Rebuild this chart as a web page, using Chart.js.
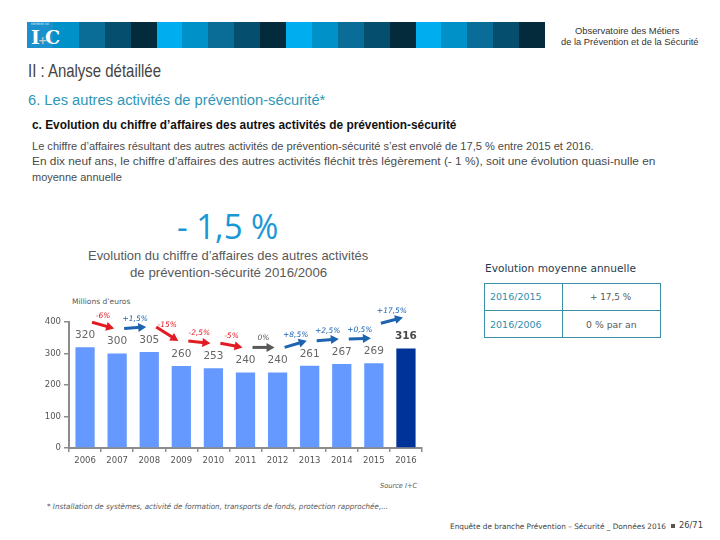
<!DOCTYPE html>
<html lang="fr">
<head>
<meta charset="utf-8">
<script src="https://cdn.jsdelivr.net/npm/chart.js@4.4.1/dist/chart.umd.min.js"></script>
<style>
  html, body { margin: 0; padding: 0; background: #fff; }
  #page { position: relative; width: 720px; height: 540px; overflow: hidden; font-family: "Liberation Sans Narrow", "Liberation Sans", sans-serif; }
  .t { position: absolute; white-space: nowrap; line-height: 1; transform-origin: 0 50%; }
  .seg { position: absolute; top: 22px; height: 26px; }
  #chartBox { position: absolute; left: 30px; top: 290px; width: 410px; height: 185px; }
  #tbl { position: absolute; left: 484px; top: 283px; width: 177px; height: 55px; border: 1.5px solid #3b8ea5; box-sizing: border-box; }
  #tbl .v { position: absolute; left: 77px; top: 0; bottom: 0; border-left: 1.5px solid #3b8ea5; }
  #tbl .h { position: absolute; left: 0; right: 0; top: 26px; border-top: 1.5px solid #3b8ea5; }
  .dv { font-family: "DejaVu Sans", sans-serif; }
  #sq { position: absolute; left: 671px; top: 524px; width: 4px; height: 4px; background: #555; }
</style>
</head>
<body>
<div id="page">
  <div id="bar"></div>
  <span class="t dv" style="left:31px;top:23px;font-size:3px;color:#dfefff">MEMBRE DE</span>
  <span class="t" style="left:31px;top:28px;font-size:19px;font-family:'DejaVu Serif',serif;font-weight:bold;color:#fff;letter-spacing:-2px">I<span style="color:#c8c8c8;font-size:11px">+</span>C</span>

  <span class="t" data-w="105" style="left:575px;top:27px;font-size:9px;color:#333">Observatoire des Métiers</span>
  <span class="t" data-w="138" style="left:561px;top:38px;font-size:9px;color:#333">de la Prévention et de la Sécurité</span>

  <span class="t" data-w="133" style="left:28px;top:61px;font-size:19px;color:#444">II : Analyse détaillée</span>
  <span class="t" data-w="297" style="left:28px;top:93px;font-size:14px;color:#2e96b9">6. Les autres activités de prévention-sécurité*</span>
  <span class="t" data-w="424" style="left:32px;top:119px;font-size:12px;color:#111;font-weight:bold">c. Evolution du chiffre d’affaires des autres activités de prévention-sécurité</span>
  <span class="t" data-w="562" style="left:32px;top:141px;font-size:10.5px;color:#4a4a4a">Le chiffre d’affaires résultant des autres activités de prévention-sécurité s’est envolé de 17,5 % entre 2015 et 2016.</span>
  <span class="t" data-w="623" style="left:32px;top:156px;font-size:10.5px;color:#4a4a4a">En dix neuf ans, le chiffre d’affaires des autres activités fléchit très légèrement (- 1 %), soit une évolution quasi-nulle en</span>
  <span class="t" data-w="90" style="left:32px;top:172px;font-size:10.5px;color:#4a4a4a">moyenne annuelle</span>

  <span class="t" data-w="101" style="left:177px;top:208px;font-size:35px;color:#1a98d4;font-family:'Open Sans',sans-serif;font-weight:500">- 1,5 %</span>
  <span class="t" data-w="280" style="left:88px;top:249px;font-size:13.5px;color:#595959">Evolution du chiffre d’affaires des autres activités</span>
  <span class="t" data-w="197" style="left:130px;top:266px;font-size:13.5px;color:#595959">de prévention-sécurité 2016/2006</span>

  <span class="t dv" data-w="151" style="left:485px;top:263px;font-size:10.5px;color:#1f3b4d">Evolution moyenne annuelle</span>
  <div id="tbl"><div class="v"></div><div class="h"></div></div>
  <span class="t dv" data-w="52" style="left:490px;top:292px;font-size:9.5px;color:#2b8fae">2016/2015</span>
  <span class="t dv" data-w="41" style="left:590px;top:292px;font-size:9.5px;color:#595959">+ 17,5 %</span>
  <span class="t dv" data-w="52" style="left:490px;top:320px;font-size:9.5px;color:#2b8fae">2016/2006</span>
  <span class="t dv" data-w="51" style="left:586px;top:320px;font-size:9.5px;color:#595959">0 % par an</span>

  <span class="t dv" data-w="58" style="left:72px;top:298px;font-size:7.5px;color:#595959">Millions d’euros</span>

  <div id="chartBox"><canvas id="caChart" width="410" height="185"></canvas></div>

  <span class="t dv" data-w="37" style="left:380px;top:483px;font-size:7px;color:#595959;font-style:italic">Source I+C</span>
  <span class="t dv" data-w="341" style="left:47px;top:503px;font-size:7.5px;color:#595959;font-style:italic">* Installation de systèmes, activité de formation, transports de fonds, protection rapprochée,...</span>
  <span class="t dv" data-w="216" style="left:450px;top:523px;font-size:7.5px;color:#404040">Enquête de branche Prévention – Sécurité _ Données 2016</span>
  <div id="sq"></div>
  <span class="t dv" data-w="24" style="left:679px;top:521px;font-size:9px;color:#404040">26/71</span>
</div>

<script>
// --- DATA ---
const years = ['2006', '2007', '2008', '2009', '2010', '2011', '2012', '2013', '2014', '2015', '2016'];
const revenue = [320, 300, 305, 260, 253, 240, 240, 261, 267, 269, 316];
const changes = ['-6%', '+1,5%', '-15%', '-2,5%', '-5%', '0%', '+8,5%', '+2,5%', '+0,5%', '+17,5%'];
const yTicks = [0, 100, 200, 300, 400];

// --- HEADER STRIP ---
const stripColors = ['#00aeef', '#0091c9', '#0a6d98', '#064e6d', '#042b3c'];
const strip = document.getElementById('bar');
for (let i = 0; i < 20; i++) {
    const d = document.createElement('div');
    d.className = 'seg';
    d.style.left = (27 + i * 25.9) + 'px';
    d.style.width = '26px';
    d.style.background = i === 0 ? '#1a90cc' : stripColors[i % 5];
    strip.appendChild(d);
}

// squeeze texts to the widths seen on the slide
document.querySelectorAll('.t[data-w]').forEach(el => {
    const w = parseFloat(el.dataset.w);
    el.style.transform = `scaleX(${w / el.offsetWidth})`;
});

// --- LABELS + ARROWS PLUGIN ---
const annotate = {
    id: 'annotate',
    afterDraw(chart) {
        const ctx = chart.ctx;
        const bars = chart.getDatasetMeta(0).data;
        ctx.save();
        ctx.textAlign = 'center';
        ctx.textBaseline = 'middle';
        bars.forEach((b, i) => {
            const last = i === bars.length - 1;
            ctx.font = (last ? 'bold ' : '') + '10.5px "DejaVu Sans"';
            ctx.fillStyle = last ? '#4a4a4a' : '#666';
            ctx.fillText(revenue[i], b.x, b.y - 12);
        });
        changes.forEach((c, i) => {
            const a = bars[i], b = bars[i + 1];
            // last arrow sits a bit higher, above the bold label
            const last = i === changes.length - 1;
            const x1 = a.x + 7, y1 = a.y - 25 - (last ? 15 : 0);
            const x2 = b.x - 3, y2 = b.y - 25 - (last ? 6 : 0);
            const col = c.startsWith('-') ? '#e31b23' : (c.startsWith('+') ? '#1d63b0' : '#595959');
            const ang = Math.atan2(y2 - y1, x2 - x1);
            const cs = Math.cos(ang), sn = Math.sin(ang);
            ctx.strokeStyle = col;
            ctx.fillStyle = col;
            ctx.lineWidth = 3;
            ctx.beginPath();
            ctx.moveTo(x1, y1);
            ctx.lineTo(x2 - cs * 6, y2 - sn * 6);
            ctx.stroke();
            ctx.beginPath();
            ctx.moveTo(x2, y2);
            ctx.lineTo(x2 - cs * 8 + sn * 4.5, y2 - sn * 8 - cs * 4.5);
            ctx.lineTo(x2 - cs * 8 - sn * 4.5, y2 - sn * 8 + cs * 4.5);
            ctx.closePath();
            ctx.fill();
            ctx.font = 'italic 7.5px "DejaVu Sans"';
            ctx.fillText(c, (x1 + x2) / 2, (y1 + y2) / 2 - 9);
        });
        ctx.restore();
    }
};

// --- CHART ---
const ctx = document.getElementById('caChart').getContext('2d');
new Chart(ctx, {
    type: 'bar',
    data: {
        labels: years,
        datasets: [{
            data: revenue,
            backgroundColor: revenue.map((v, i) => i === revenue.length - 1 ? '#003399' : '#6699ff'),
            barPercentage: 0.6,
            categoryPercentage: 1
        }]
    },
    options: {
        responsive: false,
        animation: false,
        layout: { padding: { top: 32, right: 18, left: 0, bottom: 0 } },
        plugins: { legend: { display: false }, tooltip: { enabled: false } },
        scales: {
            x: {
                grid: { drawOnChartArea: false, tickLength: 4, color: '#8c8c8c', lineWidth: 1.5 },
                border: { color: '#8c8c8c', width: 2 },
                ticks: { color: '#555', font: { family: 'DejaVu Sans', size: 8.5 }, padding: 4 },
                afterFit: s => { s.height = 27; }
            },
            y: {
                min: 0,
                max: 400,
                afterBuildTicks: s => { s.ticks = yTicks.map(v => ({ value: v })); },
                grid: { drawOnChartArea: false, tickLength: 5, color: '#8c8c8c', lineWidth: 1.5 },
                border: { color: '#8c8c8c', width: 2 },
                ticks: { color: '#555', font: { family: 'DejaVu Sans', size: 8.5 }, padding: 3 },
                afterFit: s => { s.width = 39; }
            }
        }
    },
    plugins: [annotate]
});
</script>
</body>
</html>
